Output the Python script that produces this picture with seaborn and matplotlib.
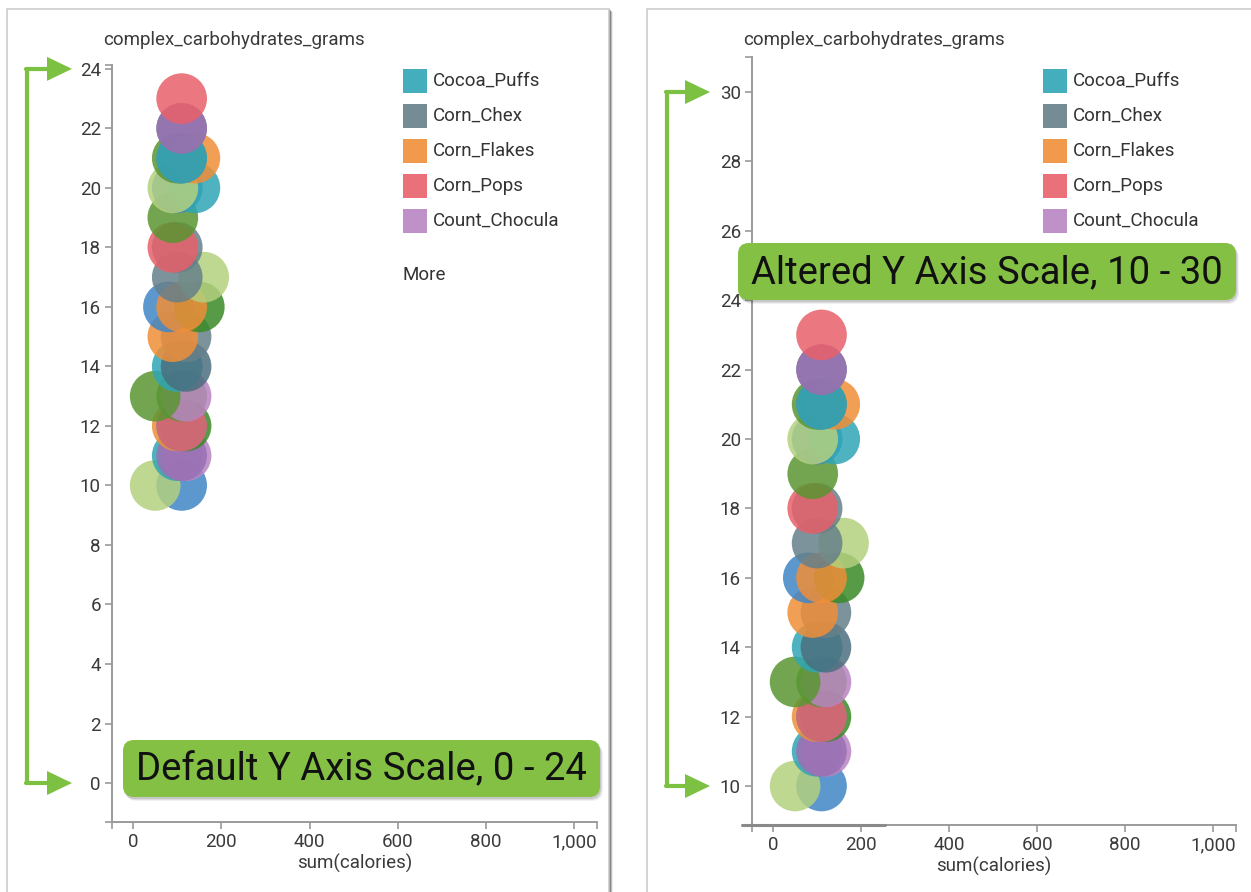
import pandas as pd
import seaborn as sns
import matplotlib.pyplot as plt
import matplotlib.ticker as mticker
from matplotlib.patches import FancyBboxPatch, Rectangle, Polygon
from matplotlib.lines import Line2D
from matplotlib.transforms import IdentityTransform

# cereal data (calories, complex carbohydrates), in drawing order
cereal = ["Cracklin_Oat_Bran", "Puffed_Wheat",
          "Crispy_Wheat_Raisins", "Post_Nat_Raisin_Bran", "Froot_Loops",
          "Life", "Fruit_Fibre", "Cocoa_Puffs", "Corn_Pops",
          "Clusters", "Count_Chocula", "Puffed_Rice",
          "Quaker_Oat_Squares", "Raisin_Bran",
          "Nut_Honey_Crunch", "Raisin_Squares",
          "Shredded_Wheat", "Muesli_Raisins", "Special_K",
          "Mueslix_Crispy_Blend", "Wheat_Chex",
          "Double_Chex", "Nutri_grain_Wheat",
          "Shredded_Wheat_n_Bran",
          "Product_19", "Just_Right_Fruit_Nut", "Shredded_Wheat_spoon",
          "Cream_of_Wheat", "Corn_Flakes", "Crispix", "Kix",
          "Corn_Chex", "Rice_Krispies",
          "Rice_Chex"]
calories = [110, 50,
            100, 120, 110,
            100, 120, 110, 110,
            110, 120, 50,
            100, 120,
            120, 90,
            80, 150, 110,
            160, 100,
            100, 90,
            90,
            100, 140, 90,
            100, 140, 110, 110,
            110, 110,
            110]
carbs = [10, 10,
         11, 11, 11,
         12, 12, 12, 12,
         13, 13, 13,
         14, 14,
         15, 15,
         16, 16, 16,
         17, 17,
         18, 18,
         19,
         20, 20, 20,
         21, 21, 21, 21,
         22, 22,
         23]
legend_names = ["Cocoa_Puffs", "Corn_Chex", "Corn_Flakes", "Corn_Pops", "Count_Chocula"]

TEAL, SLATE, DSLATE = "#2fa5b5", "#66808a", "#4b6f7e"
ORANGE, RED = "#f08e38", "#e8606a"
PURPLE, ORCHID = "#9a70b4", "#b984c2"
LGREEN, GREEN, DGREEN, BLUE = "#b3d07e", "#5a9632", "#3a8a26", "#3f86c6"
palette = {
    "Cracklin_Oat_Bran": BLUE, "Puffed_Wheat": LGREEN,
    "Crispy_Wheat_Raisins": TEAL, "Post_Nat_Raisin_Bran": ORCHID, "Froot_Loops": PURPLE,
    "Life": ORANGE, "Fruit_Fibre": DGREEN, "Cocoa_Puffs": TEAL, "Corn_Pops": RED,
    "Clusters": GREEN, "Count_Chocula": ORCHID, "Puffed_Rice": GREEN,
    "Quaker_Oat_Squares": TEAL, "Raisin_Bran": DSLATE,
    "Nut_Honey_Crunch": SLATE, "Raisin_Squares": ORANGE,
    "Shredded_Wheat": BLUE, "Muesli_Raisins": DGREEN, "Special_K": ORANGE,
    "Mueslix_Crispy_Blend": LGREEN, "Wheat_Chex": SLATE,
    "Double_Chex": SLATE, "Nutri_grain_Wheat": RED,
    "Shredded_Wheat_n_Bran": GREEN,
    "Product_19": BLUE, "Just_Right_Fruit_Nut": TEAL, "Shredded_Wheat_spoon": LGREEN,
    "Cream_of_Wheat": GREEN, "Corn_Flakes": ORANGE, "Crispix": SLATE, "Kix": TEAL,
    "Corn_Chex": SLATE, "Rice_Krispies": PURPLE,
    "Rice_Chex": RED,
}

df = pd.DataFrame({"cereal": cereal, "calories": calories, "carbs": carbs})

W, H = 1251, 892
sns.set_theme(style="white")
plt.rcParams['font.family'] = ['Roboto', 'DejaVu Sans']
fig = plt.figure(figsize=(W / 100, H / 100), dpi=100)
fig.patch.set_facecolor("white")
PIX = IdentityTransform()


def P(x, y):
    return (x, H - y)


def card(x0, x1, shadow):
    if shadow:
        for i, a in enumerate([0.45, 0.3, 0.18, 0.08]):
            fig.add_artist(Rectangle(P(x0 + i + 1, 920), x1 - x0, 920 - 9 - i,
                                     transform=PIX, facecolor="black", alpha=a,
                                     linewidth=0, zorder=-4))
    fig.add_artist(Rectangle(P(x0, 920), x1 - x0, 920 - 9, transform=PIX,
                             facecolor="white", edgecolor="#cdcdcd", linewidth=1.2, zorder=-3))


card(7, 609, True)
card(647, 1262, False)

GRAY, LBL = "#9a9a9a", "#3a3a3a"
FS = 13.5


def panel(box, ylim, yticks):
    x0, y0, x1, y1 = box
    ax = fig.add_axes([x0 / W, 1 - y1 / H, (x1 - x0) / W, (y1 - y0) / H])
    ax.patch.set_alpha(0)
    sns.scatterplot(data=df, x="calories", y="carbs", hue="cereal", palette=palette,
                    hue_order=cereal, s=1330, alpha=0.85, linewidth=0,
                    legend=False, ax=ax, clip_on=False)
    ax.set_xlim(-48, 1052)
    ax.set_ylim(*ylim)
    ax.set_xticks([0, 200, 400, 600, 800, 1000])
    ax.set_yticks(yticks)
    ax.set_xticks([-48, 1052], minor=True)
    ax.set_yticks(list(ylim), minor=True)
    ax.xaxis.set_major_formatter(mticker.FuncFormatter(lambda v, p: f"{v:,.0f}"))
    sns.despine(ax=ax)
    for s in ("left", "bottom"):
        ax.spines[s].set_color(GRAY)
        ax.spines[s].set_linewidth(1.4)
    ax.tick_params(which="both", direction="out", length=5, width=1.2, color=GRAY,
                   labelcolor=LBL, labelsize=FS, pad=3, left=True, bottom=True)
    ax.set_xlabel("sum(calories)", color=LBL, fontsize=FS, labelpad=2)
    ax.set_ylabel("")
    fig.text((x0 - 9) / W, 1 - 40 / H, "complex_carbohydrates_grams", color=LBL,
             fontsize=FS, va="center", ha="left")
    return ax


ax1 = panel((112, 65, 597, 822), (-1.31, 24.13), list(range(0, 25, 2)))
ax2 = panel((752, 57, 1236, 825), (8.876, 31.01), list(range(10, 31, 2)))

# darker stretch on the right x axis
fig.add_artist(Line2D([742, 885], [H - 825, H - 825], transform=PIX,
                      color="#8a8a8a", linewidth=2.2, zorder=3))

# legends ("More" of the right panel sits behind the callout)
for lx, more in ((403, True), (1043, False)):
    for i, name in enumerate(legend_names):
        cy = 81 + 35 * i
        fig.add_artist(Rectangle(P(lx, cy + 12), 24, 24, transform=PIX,
                                 facecolor=palette[name], alpha=0.9, linewidth=0))
        fig.text((lx + 30) / W, 1 - cy / H, name, color="#333333", fontsize=FS,
                 va="center", ha="left")
    if more:
        fig.text(lx / W, 1 - 275 / H, "More", color="#333333", fontsize=FS,
                 va="center", ha="left")

# green arrows bracketing the y range
ARROW = "#7cc142"


def ypix(ax, v):
    return H - ax.transData.transform((0, v))[1]


def bracket(ax, x_line, x_tip, v_top, v_bot):
    yt, yb = ypix(ax, v_top), ypix(ax, v_bot)
    fig.add_artist(Line2D([x_line, x_line], [H - yt, H - yb], transform=PIX,
                          color=ARROW, linewidth=3, zorder=5))
    for yy in (yt, yb):
        fig.add_artist(Line2D([x_line - 1.5, x_tip - 22], [H - yy, H - yy], transform=PIX,
                              color=ARROW, linewidth=3, zorder=5))
        fig.add_artist(Polygon([P(x_tip - 25, yy - 12), P(x_tip, yy), P(x_tip - 25, yy + 12)],
                               closed=True, transform=PIX, facecolor=ARROW,
                               linewidth=0, zorder=5))


bracket(ax1, 27, 72, 24, 0)
bracket(ax2, 667, 710, 30, 10)

# callout boxes
BOXGREEN = "#84c044"


def callout(x0, y0, x1, y1, text):
    for i, a in enumerate([0.10, 0.08, 0.06]):
        fig.add_artist(FancyBboxPatch(P(x0 + 1 + i, y1 + 2 + i), x1 - x0, y1 - y0,
                                      transform=PIX,
                                      boxstyle="round,pad=0,rounding_size=11",
                                      facecolor="black", alpha=a, linewidth=0, zorder=6))
    fig.add_artist(FancyBboxPatch(P(x0, y1), x1 - x0, y1 - y0, transform=PIX,
                                  boxstyle="round,pad=0,rounding_size=11",
                                  facecolor=BOXGREEN, linewidth=0, zorder=7))
    fig.text((x0 + x1) / 2 / W, 1 - (y0 + y1 + 2) / 2 / H, text, color="#111111",
             fontsize=27.5, ha="center", va="center", zorder=8)


callout(123, 740, 600, 797, "Default Y Axis Scale, 0 - 24")
callout(738, 243, 1236, 300, "Altered Y Axis Scale, 10 - 30")

fig.savefig("out.png", dpi=100)
